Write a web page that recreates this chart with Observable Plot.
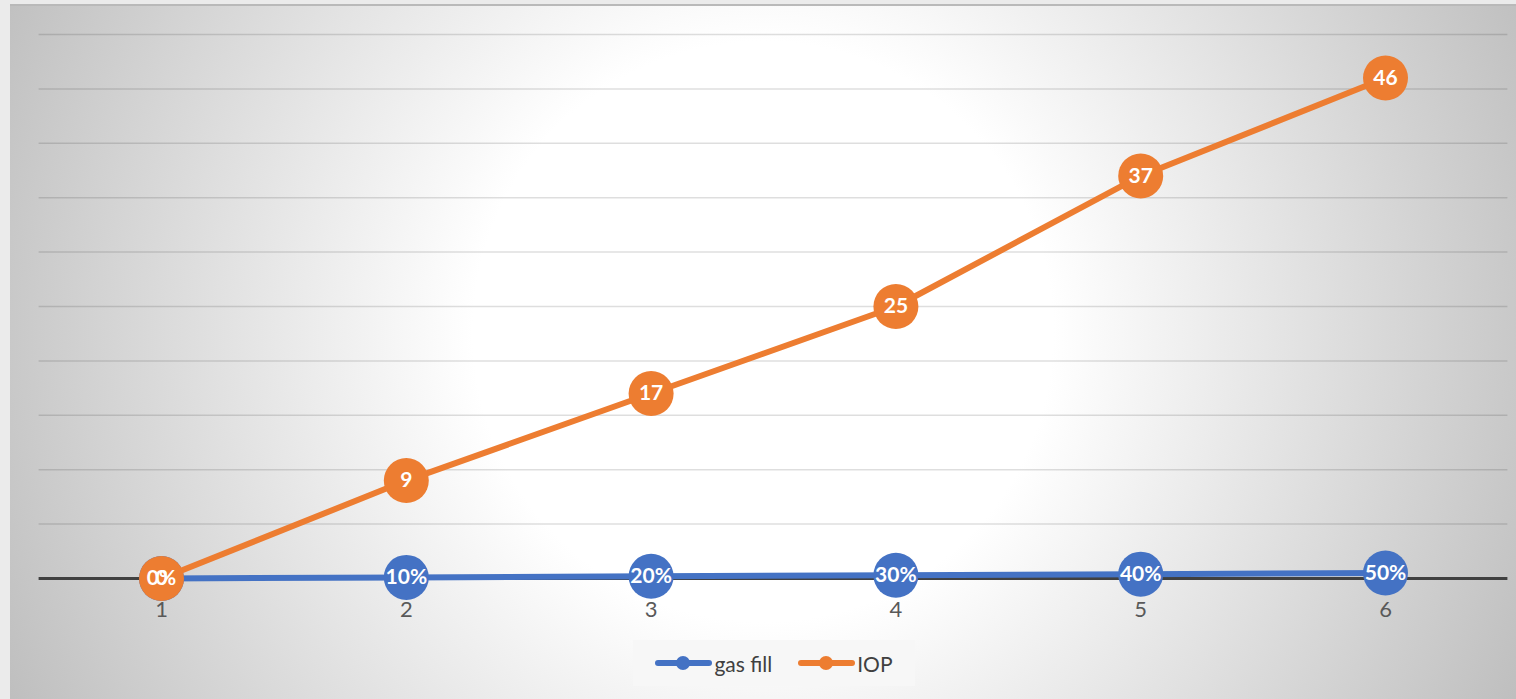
<!DOCTYPE html>
<html>
<head>
<meta charset="utf-8">
<script src="https://cdn.jsdelivr.net/npm/d3@7"></script>
<script src="https://cdn.jsdelivr.net/npm/@observablehq/plot@0.6"></script>
<style>
  html, body { margin: 0; padding: 0; background: #ebebeb; width: 1516px; height: 699px; overflow: hidden; }
  #frame {
    position: absolute; left: 10px; top: 4px; width: 1506px; height: 695px;
    border-top: 2px solid #b9b9b9; box-sizing: border-box;
    background: radial-gradient(circle at 50% 47%, #ffffff 0px, #ffffff 290px, #bcbcbc 860px);
    font-family: Lato, "Noto Sans", sans-serif;
  }
  #chart { position: absolute; left: 0; top: -2px; }
  #legend {
    position: absolute; left: 623px; top: 634px; width: 282px; height: 46px;
    background: #f7f7f7; display: flex; align-items: center; justify-content: center; gap: 26px;
    font-size: 21px; color: #404040;
  }
  .item { display: flex; align-items: center; }
  .key { position: relative; width: 57px; height: 14px; margin-right: 2px; }
  .key .ln { position: absolute; left: 0; right: 0; top: 4px; height: 6px; border-radius: 3px; }
  .key .dt { position: absolute; left: 21px; top: 0; width: 14px; height: 14px; border-radius: 7px; }
</style>
</head>
<body>
<div id="frame">
  <div id="chart"></div>
  <div id="legend"></div>
</div>
<script>
const categories = [1, 2, 3, 4, 5, 6];
const gasFill = [0, 0.1, 0.2, 0.3, 0.4, 0.5];
const iop = [0, 9, 17, 25, 37, 46];
const gridValues = [5, 10, 15, 20, 25, 30, 35, 40, 45, 50];
const seriesNames = ["gas fill", "IOP"];
const seriesColors = ["#4472C4", "#ED7D31"];

const gasRows = categories.map((c, i) => ({x: c, y: gasFill[i], label: Math.round(gasFill[i] * 100) + "%"}));
const iopRows = categories.map((c, i) => ({x: c, y: iop[i], label: String(iop[i])}));

const chart = Plot.plot({
  width: 1506,
  height: 620,
  marginLeft: 28.6,
  marginRight: 8.6,
  marginTop: 30,
  marginBottom: 46,
  style: {background: "transparent", fontFamily: "Lato, 'Noto Sans', sans-serif", overflow: "visible"},
  x: {type: "point", domain: categories, padding: 0.5, round: false},
  y: {domain: [0, 50], axis: null},
  marks: [
    Plot.ruleY(gridValues, {stroke: "#000", strokeOpacity: 0.13, strokeWidth: 1.5}),
    Plot.axisX({tickSize: 0, tickPadding: 23, fontSize: 22, color: "#595959", label: null}),
    Plot.ruleY([0], {stroke: "#404040", strokeWidth: 3}),
    Plot.line(gasRows, {x: "x", y: "y", stroke: seriesColors[0], strokeWidth: 6}),
    Plot.dot(gasRows, {x: "x", y: "y", r: 22.5, fill: seriesColors[0]}),
    Plot.line(iopRows, {x: "x", y: "y", stroke: seriesColors[1], strokeWidth: 6}),
    Plot.dot(iopRows, {x: "x", y: "y", r: 22.5, fill: seriesColors[1]}),
    Plot.text(gasRows, {x: "x", y: "y", text: "label", fill: "white", fontWeight: "bold", fontSize: 21}),
    Plot.text(iopRows, {x: "x", y: "y", text: "label", fill: "white", fontWeight: "bold", fontSize: 21})
  ]
});
document.getElementById("chart").appendChild(chart);

const legend = document.getElementById("legend");
seriesNames.forEach((name, i) => {
  const item = document.createElement("div");
  item.className = "item";
  item.innerHTML = `<div class="key"><div class="ln" style="background:${seriesColors[i]}"></div><div class="dt" style="background:${seriesColors[i]}"></div></div><span>${name}</span>`;
  legend.appendChild(item);
});
</script>
</body>
</html>
